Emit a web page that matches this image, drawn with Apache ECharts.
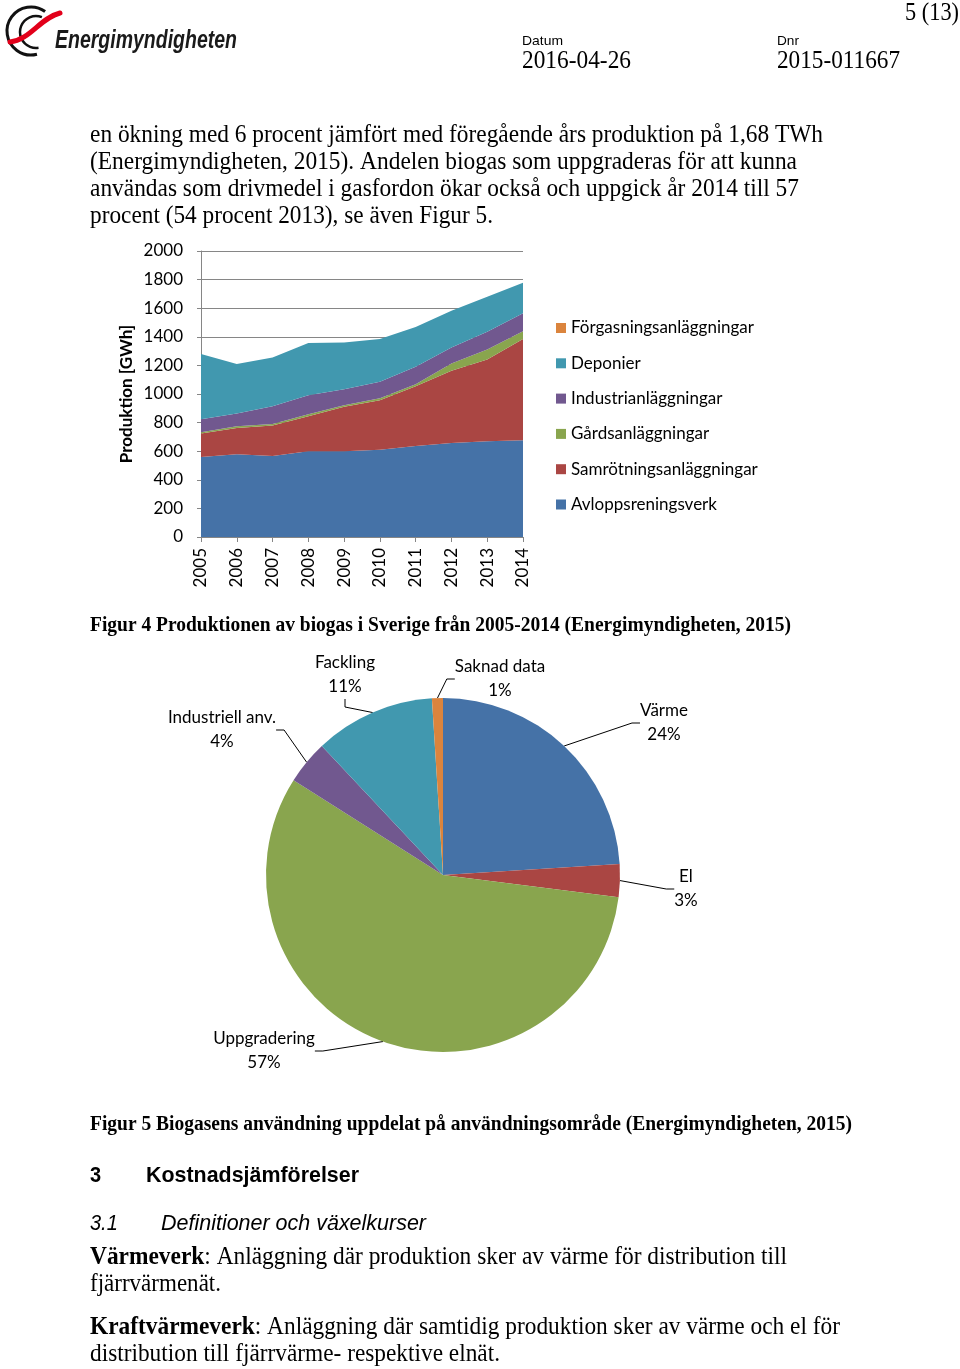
<!DOCTYPE html>
<html><head><meta charset="utf-8">
<script src="https://cdn.jsdelivr.net/npm/echarts@6/dist/echarts.min.js"></script>
<style>html,body{margin:0;padding:0;background:#fff}#c{width:960px;height:1369px}</style>
</head><body><div id="c"></div>
<script>
// ---- data: Figur 4 (GWh) ----
const years = ['2005','2006','2007','2008','2009','2010','2011','2012','2013','2014'];
const avloppsreningsverk = [560,579,567,600,600,611,637,658,670,677];
const samrotningsanlaggningar = [163,184,212,245,310,346,418,504,572,707];
const gardsanlaggningar = [10,12,12,14,12,14,14,52,70,54];
const industrianlaggningar = [91,89,124,133,112,114,121,112,123,126];
const deponier = [455,345,341,364,327,299,278,256,245,214];
const forgasningsanlaggningar = [0,0,0,0,0,0,0,0,0,0];
const yMin = 0, yMax = 2000, yStep = 200;

// ---- data: Figur 5 (%) ----
const pieNames = ['Värme','El','Uppgradering','Industriell anv.','Fackling','Saknad data'];
const pieValues = [24,3,57,4,11,1];

// ---- styles ----
const COLORS = {blue:'#4572A7', red:'#AA4643', green:'#89A54E', purple:'#71588F', teal:'#4198AF', orange:'#DB843D'};
const CF = 'Lato';
const SERIF = 'Liberation Serif';
const SANS = 'Liberation Sans';

const ctx = document.createElement('canvas').getContext('2d');
function mw(t, f){ ctx.font = f; return ctx.measureText(t).width; }
function line(x, y, parts, w, sy, fill){
  let off = 0; const children = [];
  parts.forEach(([t, f]) => {
    children.push({type:'text', x: off, y: 0, style:{text:t, font:f, fill: fill || '#000', align:'left', verticalAlign:'middle', textAlign:'left', textVerticalAlign:'middle'}});
    off += mw(t, f);
  });
  return {type:'group', x: x, y: y, scaleX: w ? w/off : 1, scaleY: sy || 1, children: children};
}

const bodyF = '22px ' + SERIF;
const boldBodyF = 'bold 22px ' + SERIF;
const capF = 'bold 18px ' + SERIF;
const SY = 1.12;

const graphics = [
  // logo
  {type:'arc', shape:{cx:31, cy:31, r:24, startAngle: -Math.PI*0.30, endAngle: Math.PI*0.42, clockwise:false}, style:{stroke:'#111', lineWidth:3, fill:'none'}},
  {type:'arc', shape:{cx:36, cy:32, r:16, startAngle: -Math.PI*0.38, endAngle: Math.PI*0.45, clockwise:false}, style:{stroke:'#111', lineWidth:2.5, fill:'none'}},
  {type:'bezierCurve', shape:{x1:10, y1:42, cpx1:30, cpy1:40, cpx2:40, cpy2:18, x2:60, y2:13}, style:{stroke:'#E2001A', lineWidth:5, fill:'none', lineCap:'round'}},
  line(55, 41, [['Energimyndigheten', 'italic 600 24px ' + SANS]], 182, 1.05, '#1a1a1a'),
  // header
  line(905, 14, [['5 (13)', bodyF]], 54, SY),
  line(522, 41, [['Datum', '13px ' + SANS]], 41, 1.05),
  line(522, 62, [['2016-04-26', bodyF]], 109, SY),
  line(777, 41, [['Dnr', '13px ' + SANS]], 22, 1.05),
  line(777, 62, [['2015-011667', bodyF]], 123, SY),
  // paragraph
  line(90, 136, [['en ökning med 6 procent jämfört med föregående års produktion på 1,68 TWh', bodyF]], 733, SY),
  line(90, 163, [['(Energimyndigheten, 2015). Andelen biogas som uppgraderas för att kunna', bodyF]], 707, SY),
  line(90, 190, [['användas som drivmedel i gasfordon ökar också och uppgick år 2014 till 57', bodyF]], 709, SY),
  line(90, 217, [['procent (54 procent 2013), se även Figur 5.', bodyF]], 403, SY),
  // captions
  line(90, 626, [['Figur 4 Produktionen av biogas i Sverige från 2005-2014 (Energimyndigheten, 2015)', capF]], 701, SY),
  line(90, 1125, [['Figur 5 Biogasens användning uppdelat på användningsområde (Energimyndigheten, 2015)', capF]], 762, SY),
  // headings
  line(90, 1176, [['3', 'bold 20px ' + SANS]], null, 1.1),
  line(146, 1176, [['Kostnadsjämförelser', 'bold 20px ' + SANS]], 213, 1.1),
  line(90, 1224, [['3.1', 'italic 20px ' + SANS]], null, 1.1),
  line(161, 1224, [['Definitioner och växelkurser', 'italic 20px ' + SANS]], 265, 1.1),
  // definitions
  line(90, 1258, [['Värmeverk', boldBodyF], [': Anläggning där produktion sker av värme för distribution till', bodyF]], 697, SY),
  line(90, 1285, [['fjärrvärmenät.', bodyF]], 131, SY),
  line(90, 1328, [['Kraftvärmeverk', boldBodyF], [': Anläggning där samtidig produktion sker av värme och el för', bodyF]], 750, SY),
  line(90, 1355, [['distribution till fjärrvärme- respektive elnät.', bodyF]], 410, SY)
];

const labelCenters = [[664,723],[686,889],[264,1051],[222,730],[345,675],[500,679]];

function area(name, data, color){
  return {name:name, type:'line', stack:'total', data:data, symbol:'none', smooth:false,
    lineStyle:{width:0}, areaStyle:{color:color, opacity:1}, itemStyle:{color:color},
    emphasis:{disabled:true}, silent:true};
}

const chart = echarts.init(document.getElementById('c'), null, {renderer:'canvas', width:960, height:1369});
chart.setOption({
  animation:false,
  backgroundColor:'#fff',
  grid:{left:201, top:251, width:322, height:286, containLabel:false},
  xAxis:{type:'category', data:years, boundaryGap:false,
    axisLine:{lineStyle:{color:'#868686', width:1}},
    axisTick:{show:true, length:5, interval:0, lineStyle:{color:'#868686'}},
    axisLabel:{rotate:90, margin:11, fontFamily:CF, fontSize:17, color:'#000', interval:0},
    splitLine:{show:false}},
  yAxis:{type:'value', min:yMin, max:yMax, interval:yStep,
    name:'Produktion [GWh]', nameLocation:'middle', nameRotate:90, nameGap:66,
    nameTextStyle:{fontFamily:CF, fontSize:17, fontWeight:'bold', color:'#000'},
    axisLine:{show:true, lineStyle:{color:'#868686', width:1}},
    axisTick:{show:true, length:4, lineStyle:{color:'#868686'}},
    axisLabel:{fontFamily:CF, fontSize:17, color:'#000', margin:18, formatter:function(v){ return String(v); }},
    splitLine:{show:true, lineStyle:{color:'#868686', width:1}}},
  legend:{orient:'vertical', left:551, top:314, itemWidth:10, itemHeight:10, itemGap:17.3, icon:'rect',
    textStyle:{fontFamily:CF, fontSize:17, color:'#000', lineHeight:18},
    data:['Förgasningsanläggningar','Deponier','Industrianläggningar','Gårdsanläggningar','Samrötningsanläggningar','Avloppsreningsverk'],
    selectedMode:false},
  series:[
    area('Avloppsreningsverk', avloppsreningsverk, COLORS.blue),
    area('Samrötningsanläggningar', samrotningsanlaggningar, COLORS.red),
    area('Gårdsanläggningar', gardsanlaggningar, COLORS.green),
    area('Industrianläggningar', industrianlaggningar, COLORS.purple),
    area('Deponier', deponier, COLORS.teal),
    area('Förgasningsanläggningar', forgasningsanlaggningar, COLORS.orange),
    {type:'pie', center:[443,875], radius:177, startAngle:90, clockwise:true, percentPrecision:0,
      silent:true, emphasis:{disabled:true},
      data: pieNames.map((n,i)=>({name:n, value:pieValues[i],
        itemStyle:{color:[COLORS.blue,COLORS.red,COLORS.green,COLORS.purple,COLORS.teal,COLORS.orange][i]}})),
      itemStyle:{borderWidth:0},
      label:{show:true, position:'outside', formatter:'{b}\n{d}%', fontFamily:CF, fontSize:17, color:'#000', lineHeight:24, align:'center'},
      labelLine:{show:true, length:10, length2:8, lineStyle:{color:'#000', width:1}},
      labelLayout:function(p){ const c = labelCenters[p.dataIndex]; return {x:c[0], y:c[1], align:'center', verticalAlign:'middle', hideOverlap:false}; }
    }
  ],
  graphic: graphics
});
</script></body></html>
